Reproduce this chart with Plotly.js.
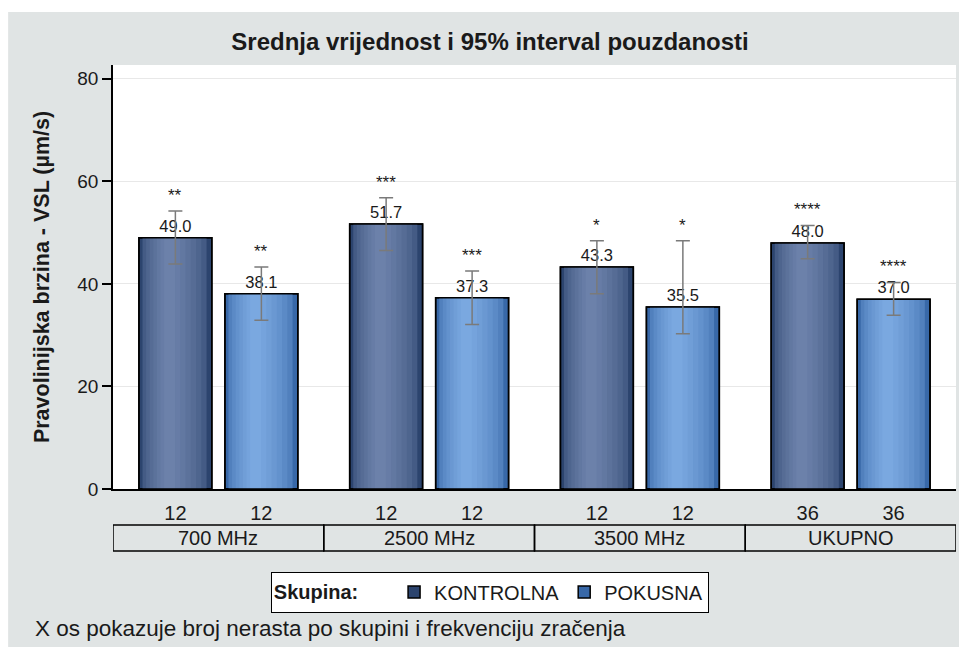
<!DOCTYPE html>
<html>
<head>
<meta charset="utf-8">
<script src="https://cdn.plot.ly/plotly-3.0.1.min.js"></script>
<style>html,body{margin:0;padding:0;background:#fff;}#chart{width:959px;height:647px;}</style>
</head>
<body>
<div id="chart"></div>
<script>
// ---- data ----
const groups = ['700 MHz', '2500 MHz', '3500 MHz', 'UKUPNO'];
const seriesNames = ['KONTROLNA', 'POKUSNA'];
const countsK = [12, 12, 12, 36];
const countsP = [12, 12, 12, 36];
const meanK = [49.0, 51.7, 43.3, 48.0];
const meanP = [38.1, 37.3, 35.5, 37.0];
const upperK = [54.2, 56.8, 48.4, 51.4];
const lowerK = [43.9, 46.5, 38.1, 44.9];
const upperP = [43.3, 42.5, 48.4, 40.3];
const lowerP = [32.9, 32.1, 30.3, 33.9];
const starsK = ['**', '***', '*', '****'];
const starsP = ['**', '***', '*', '****'];
const yTicks = [0, 20, 40, 60, 80];

// ---- style ----
const FONT = 'Liberation Sans, Arial, sans-serif';
const TXT = '#1a1a1a';
const BG = '#e0e4e4';
const barW = 0.346;
const offs = [-0.204, 0.204];
const darkCols = [[44, 68, 110], [56, 104, 168]];
const lightCols = [[108, 129, 170], [122, 168, 224]];
const nLayers = 8;

const gi = groups.map((g, i) => i);
const series = [
  {name: seriesNames[0], mean: meanK, up: upperK, lo: lowerK, stars: starsK, counts: countsK},
  {name: seriesNames[1], mean: meanP, up: upperP, lo: lowerP, stars: starsP, counts: countsP}
];

function lerp(a, b, t) { return a.map((v, k) => Math.round(v + (b[k] - v) * t)); }

const traces = [];
const annotations = [];
series.forEach((s, si) => {
  const xs = gi.map(i => i + offs[si]);
  for (let j = 0; j < nLayers; j++) {
    const t = j / (nLayers - 1);
    const c = lerp(darkCols[si], lightCols[si], Math.sqrt(t));
    const w = barW * (1 - 0.85 * t);
    const shift = -0.08 * t * barW;
    traces.push({
      type: 'bar', x: xs.map(v => v + shift), y: s.mean, width: w,
      name: s.name, legendgroup: s.name, showlegend: j === 0,
      marker: {color: 'rgb(' + c.join(',') + ')', line: {width: j === 0 ? 1.5 : 0, color: '#000'}},
      hoverinfo: 'skip'
    });
  }
  traces.push({
    type: 'bar', x: xs, y: s.mean, width: barW, showlegend: false, legendgroup: s.name,
    marker: {color: 'rgba(0,0,0,0)', line: {width: 1.5, color: '#000'}},
    text: s.mean.map(v => v.toFixed(1)), textposition: 'outside', cliponaxis: false,
    textfont: {family: FONT, size: 16.5, color: TXT},
    error_y: {type: 'data', symmetric: false,
      array: s.mean.map((m, i) => s.up[i] - m),
      arrayminus: s.mean.map((m, i) => m - s.lo[i]),
      color: '#7a7a7a', thickness: 1.5, width: 7},
    hovertemplate: '%{y:.1f}<extra>' + s.name + '</extra>'
  });
  xs.forEach((x, i) => {
    annotations.push({xref: 'x', yref: 'y', x: x, y: s.up[i], text: s.stars[i], showarrow: false,
      xanchor: 'center', yanchor: 'bottom', yshift: 4, font: {family: FONT, size: 17, color: TXT}});
  });
});

const tickvals = [], ticktext = [];
gi.forEach(i => { series.forEach((s, si) => { tickvals.push(i + offs[si]); ticktext.push(String(s.counts[i])); }); });

const shapes = [
  {type: 'rect', xref: 'paper', yref: 'paper', x0: -0.1244, x1: 1.01, y0: -0.38, y1: 1.125,
   fillcolor: BG, line: {width: 0}, layer: 'below'},
  {type: 'rect', xref: 'paper', yref: 'paper', x0: 0, x1: 1, y0: 0, y1: 1,
   fillcolor: '#ffffff', line: {width: 0}, layer: 'below'}
];
groups.forEach((g, i) => {
  shapes.push({type: 'rect', xref: 'x', yref: 'paper', x0: i - 0.5, x1: i + 0.5, y0: -0.146, y1: -0.085,
    line: {color: '#000', width: 1.5}, fillcolor: 'rgba(0,0,0,0)'});
  annotations.push({xref: 'x', yref: 'paper', x: i, y: -0.1155, text: g, showarrow: false,
    xanchor: 'center', yanchor: 'middle', font: {family: FONT, size: 20, color: TXT}});
});
annotations.push({xref: 'paper', yref: 'paper', x: -0.0948, y: -0.329, xanchor: 'left', yanchor: 'middle',
  text: 'X os pokazuje broj nerasta po skupini i frekvenciju zračenja', showarrow: false,
  font: {family: FONT, size: 22.5, color: TXT}});

const layout = {
  width: 959, height: 647,
  margin: {l: 113, r: 3, t: 65, b: 158},
  paper_bgcolor: '#ffffff', plot_bgcolor: 'rgba(0,0,0,0)',
  barmode: 'overlay',
  title: {text: '<b>Srednja vrijednost i 95% interval pouzdanosti</b>', xref: 'container', x: 0.511,
    y: 0.935, yanchor: 'middle', xanchor: 'center', font: {family: FONT, size: 24, color: TXT}},
  xaxis: {range: [-0.5, 3.5], tickmode: 'array', tickvals: tickvals, ticktext: ticktext, ticks: '',
    showgrid: false, zeroline: false, showline: true, linecolor: '#000', linewidth: 1.5,
    ticklabelstandoff: 5,
    tickfont: {family: FONT, size: 20, color: TXT}, fixedrange: true},
  yaxis: {range: [0, 82.7], tickmode: 'array', tickvals: yTicks, ticks: 'outside', ticklen: 9,
    tickcolor: '#000', tickwidth: 1.5, showline: true, linecolor: '#000', linewidth: 1.5,
    showgrid: true, gridcolor: '#e8e8e8', gridwidth: 1, zeroline: false,
    tickfont: {family: FONT, size: 19, color: TXT},
    title: {text: '<b>Pravolinijska brzina - VSL (µm/s)</b>', standoff: 22,
      font: {family: FONT, size: 21.5, color: TXT}}, fixedrange: true},
  legend: {orientation: 'h', x: 0.447, xanchor: 'center', y: -0.243, yanchor: 'middle',
    bgcolor: '#ffffff', bordercolor: '#000', borderwidth: 1,
    font: {family: FONT, size: 20, color: TXT},
    title: {text: '<b>Skupina:</b>     ', side: 'left', font: {family: FONT, size: 20, color: TXT}},
    traceorder: 'normal', itemclick: false, itemdoubleclick: false},
  shapes: shapes, annotations: annotations,
  showlegend: true
};

Plotly.newPlot('chart', traces, layout, {displayModeBar: false, staticPlot: false});
</script>
</body>
</html>
